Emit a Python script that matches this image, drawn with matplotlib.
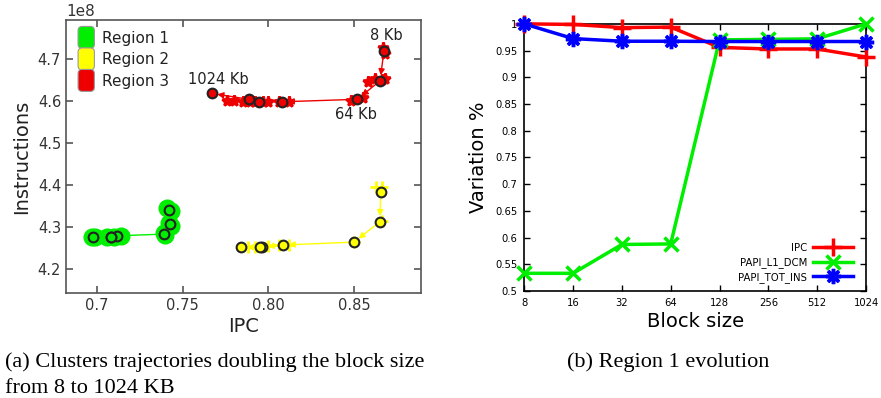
import matplotlib
matplotlib.use("Agg")
import matplotlib.pyplot as plt
import numpy as np
from matplotlib.patches import FancyBboxPatch
from matplotlib.legend_handler import HandlerPatch
from matplotlib.patches import Patch

# ---------------- data: left panel (cluster trajectories) ----------------
r1_ipc = [0.742, 0.7428, 0.739, 0.7118, 0.7081, 0.7081, 0.6978]
r1_ins = [4.3415e8, 4.306e8, 4.283e8, 4.279e8, 4.276e8, 4.276e8, 4.2753e8]
r2_ipc = [0.8655, 0.865, 0.850, 0.8086, 0.7963, 0.7953, 0.7842]
r2_ins = [4.384e8, 4.3126e8, 4.264e8, 4.257e8, 4.253e8, 4.2517e8, 4.2517e8]
r3_ipc = [0.8674, 0.8651, 0.8519, 0.808, 0.7945, 0.7885, 0.767]
r3_ins = [4.7198e8, 4.648e8, 4.604e8, 4.598e8, 4.598e8, 4.604e8, 4.618e8]
# individual member points (scatter around the centroids)
r3_pts_ipc = [0.867, 0.868, 0.866, 0.858, 0.862, 0.868, 0.855, 0.848, 0.812, 0.806, 0.800, 0.797, 0.792, 0.789, 0.785, 0.780, 0.776]
r3_pts_ins = [4.727e8, 4.713e8, 4.650e8, 4.645e8, 4.652e8, 4.653e8, 4.606e8, 4.600e8, 4.598e8, 4.598e8, 4.598e8, 4.598e8, 4.598e8, 4.598e8, 4.598e8, 4.600e8, 4.600e8]
r2_pts_ipc = [0.863, 0.866, 0.866, 0.850, 0.812, 0.806, 0.800, 0.792, 0.788]
r2_pts_ins = [4.395e8, 4.395e8, 4.315e8, 4.265e8, 4.258e8, 4.257e8, 4.255e8, 4.253e8, 4.253e8]
r1_pts_ipc = [0.741, 0.743, 0.742, 0.743, 0.739, 0.740, 0.714, 0.710, 0.706, 0.699, 0.697]
r1_pts_ins = [4.345e8, 4.338e8, 4.310e8, 4.303e8, 4.285e8, 4.281e8, 4.279e8, 4.277e8, 4.277e8, 4.2755e8, 4.2755e8]
region_labels = ["Region 1", "Region 2", "Region 3"]
size_labels = ["8 Kb", "64 Kb", "1024 Kb"]
size_label_pos_ipc = [0.8686, 0.851, 0.771]
size_label_pos_ins = [4.757e8, 4.567e8, 4.652e8]
left_xticks = [0.7, 0.75, 0.80, 0.85]
left_xticklabels = ["0.7", "0.75", "0.80", "0.85"]
left_yticks = [4.2e8, 4.3e8, 4.4e8, 4.5e8, 4.6e8, 4.7e8]

# ---------------- data: right panel (Region 1 evolution) ----------------
block_sizes = [8, 16, 32, 64, 128, 256, 512, 1024]
ipc_var = [1.0, 0.999, 0.993, 0.994, 0.956, 0.953, 0.953, 0.938]
l1_dcm_var = [0.533, 0.533, 0.587, 0.588, 0.970, 0.971, 0.972, 1.0]
tot_ins_var = [1.0, 0.9725, 0.9675, 0.9675, 0.967, 0.967, 0.967, 0.967]
right_yticks = [0.5, 0.55, 0.6, 0.65, 0.7, 0.75, 0.8, 0.85, 0.9, 0.95, 1.0]
right_yticklabels = ["0.5", "0.55", "0.6", "0.65", "0.7", "0.75", "0.8", "0.85", "0.9", "0.95", "1"]

fig = plt.figure(figsize=(8.81, 3.98), dpi=100)

# ---------------- left panel ----------------
ax1 = fig.add_axes([0.0749, 0.264, 0.403, 0.686])
GRAY = "#555555"
cols = {"g": "#00ee00", "y": "#ffff00", "r": "#ee0000"}

def draw_region(ax, xs, ys, pxs, pys, col, pmarker, ms):
    ax.plot(pxs, pys, linestyle="none", marker=pmarker, color=col, ms=ms, mew=2, zorder=2)
    for i in range(len(xs) - 1):
        ax.annotate("", xy=(xs[i + 1], ys[i + 1]), xytext=(xs[i], ys[i]),
                    arrowprops=dict(arrowstyle="-|>", color=col, lw=1.0,
                                    shrinkA=0, shrinkB=4, mutation_scale=9),
                    zorder=3)
    ax.plot(xs, ys, linestyle="none", marker="o", ms=7, mfc=col, mec="#222222", mew=1.5, zorder=4)

draw_region(ax1, r1_ipc, r1_ins, r1_pts_ipc, r1_pts_ins, cols["g"], "o", 11)
draw_region(ax1, r2_ipc, r2_ins, r2_pts_ipc, r2_pts_ins, cols["y"], "+", 8)
draw_region(ax1, r3_ipc, r3_ins, r3_pts_ipc, r3_pts_ins, cols["r"], "*", 8)

for lab, x, y in zip(size_labels, size_label_pos_ipc, size_label_pos_ins):
    ax1.text(x, y, lab, ha="center", va="center", fontsize=10.5, color="#222222")

ax1.set_xlim(0.682, 0.889)
ax1.set_ylim(4.143e8, 4.793e8)
ax1.set_xticks(left_xticks)
ax1.set_xticklabels(left_xticklabels)
ax1.set_yticks(left_yticks)
ax1.ticklabel_format(axis="y", style="sci", scilimits=(8, 8), useOffset=False)
ax1.yaxis.get_offset_text().set_fontsize(11)
ax1.yaxis.get_offset_text().set_color("#333333")
ax1.tick_params(direction="in", top=True, right=True, length=5, width=1.2,
                colors=GRAY, labelcolor="#333333", labelsize=10.5)
for s in ax1.spines.values():
    s.set_color(GRAY)
    s.set_linewidth(1.2)
ax1.set_xlabel("IPC", fontsize=14, color="#222222", labelpad=3)
ax1.set_ylabel("Instructions", fontsize=14, color="#222222", labelpad=5)


class RoundSquare(HandlerPatch):
    def create_artists(self, legend, orig_handle, xdescent, ydescent, width, height, fontsize, trans):
        p = FancyBboxPatch((-xdescent + 1, -ydescent - 3), width - 2, height + 6,
                           boxstyle="round,pad=0,rounding_size=3",
                           facecolor=orig_handle.get_facecolor(), edgecolor="#999999", lw=0.8)
        p.set_transform(trans)
        return [p]

handles = [Patch(facecolor=cols["g"]), Patch(facecolor=cols["y"]), Patch(facecolor=cols["r"])]
ax1.legend(handles, region_labels, loc="upper left", frameon=False, fontsize=11,
           handler_map={Patch: RoundSquare()}, handlelength=1.25, handleheight=1.0,
           handletextpad=0.4, labelspacing=0.42, borderaxespad=0.3, labelcolor="#222222")

# ---------------- right panel ----------------
ax2 = fig.add_axes([0.595, 0.269, 0.388, 0.671])
ax2.plot(block_sizes, ipc_var, color="#ff0000", lw=2.5, marker="+", ms=13, mew=2.5, label="IPC", clip_on=False, zorder=3)
ax2.plot(block_sizes, l1_dcm_var, color="#00ee00", lw=2.5, marker="x", ms=10, mew=2.5, label="PAPI_L1_DCM", clip_on=False, zorder=4)
ax2.plot(block_sizes, tot_ins_var, color="#0000ff", lw=2.5, marker=(8, 2, 0), ms=11, mew=2.5, label="PAPI_TOT_INS", clip_on=False, zorder=5)
ax2.set_xscale("log", base=2)
ax2.set_xlim(8, 1024)
ax2.set_ylim(0.5, 1.0)
ax2.set_xticks(block_sizes)
ax2.set_xticklabels([str(b) for b in block_sizes])
ax2.minorticks_off()
ax2.set_yticks(right_yticks)
ax2.set_yticklabels(right_yticklabels)
ax2.tick_params(direction="in", top=True, right=True, length=4, width=1, labelsize=7.2, pad=5)
for s in ax2.spines.values():
    s.set_linewidth(1.2)
ax2.set_xlabel("Block size", fontsize=14, labelpad=3)
ax2.set_ylabel("Variation %", fontsize=14, labelpad=5)
ax2.legend(loc="lower right", bbox_to_anchor=(0.962, 0.03), frameon=False, fontsize=7.3,
           markerfirst=False, handlelength=3.9, labelspacing=0.4, borderaxespad=0,
           borderpad=0, handletextpad=0.6)

# ---------------- captions ----------------
fig.text(0.006, 0.078, "(a) Clusters trajectories doubling the block size", fontsize=16,
         family="Liberation Serif", ha="left", va="baseline")
fig.text(0.006, 0.0126, "from 8 to 1024 KB", fontsize=16,
         family="Liberation Serif", ha="left", va="baseline")
fig.text(0.644, 0.078, "(b) Region 1 evolution", fontsize=16,
         family="Liberation Serif", ha="left", va="baseline")

fig.savefig("out.png", dpi=100)
